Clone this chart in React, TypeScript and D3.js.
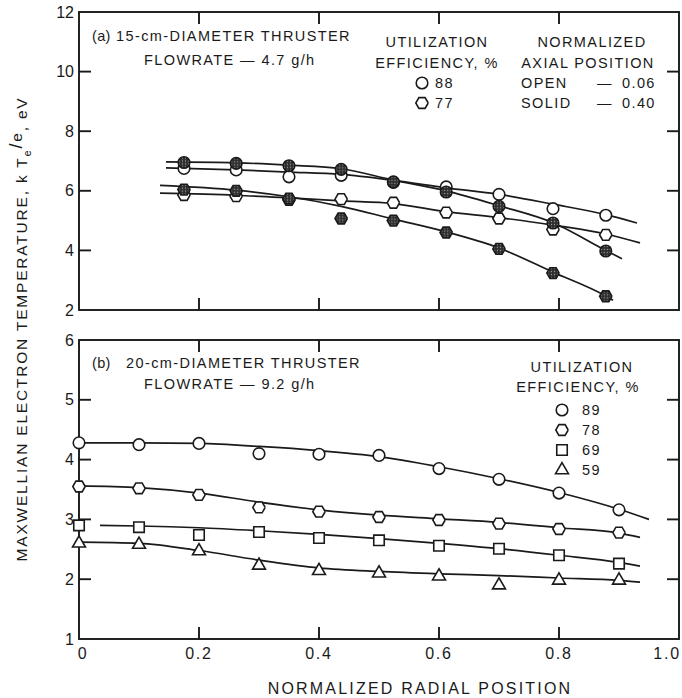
import * as d3 from "d3";
import React from "react";

// panel (a): 15-cm thruster, radial positions of the probe points
const radialA = [0.175, 0.262, 0.35, 0.437, 0.524, 0.612, 0.7, 0.79, 0.878];
const openA88 = [6.75, 6.7, 6.47, 6.52, 6.28, 6.13, 5.88, 5.4, 5.18];
const solidA88 = [6.95, 6.92, 6.84, 6.72, 6.3, 5.96, 5.48, 4.92, 3.98];
const openA77 = [5.86, 5.82, 5.7, 5.72, 5.6, 5.27, 5.07, 4.7, 4.52];
const solidA77 = [6.04, 6.0, 5.74, 5.07, 5.0, 4.6, 4.05, 3.24, 2.46];

// faired curves of panel (a)
const fitA88OpenX = [0.145, 0.262, 0.35, 0.437, 0.524, 0.612, 0.7, 0.79, 0.878, 0.93];
const fitA88OpenV = [6.77, 6.7, 6.63, 6.55, 6.35, 6.1, 5.88, 5.55, 5.2, 4.92];
const fitA88SolidX = [0.145, 0.262, 0.35, 0.437, 0.524, 0.612, 0.7, 0.79, 0.878, 0.905];
const fitA88SolidV = [6.97, 6.94, 6.86, 6.74, 6.36, 6.0, 5.5, 4.93, 4.0, 3.72];
const fitA77OpenX = [0.135, 0.262, 0.35, 0.437, 0.524, 0.612, 0.7, 0.79, 0.878, 0.935];
const fitA77OpenV = [5.92, 5.85, 5.76, 5.66, 5.57, 5.3, 5.1, 4.85, 4.55, 4.25];
const fitA77SolidX = [0.135, 0.262, 0.35, 0.437, 0.524, 0.612, 0.7, 0.79, 0.878, 0.89];
const fitA77SolidV = [6.18, 6.02, 5.8, 5.48, 5.05, 4.62, 4.08, 3.27, 2.47, 2.33];

// panel (b): 20-cm thruster
const radialB = [0, 0.1, 0.2, 0.3, 0.4, 0.5, 0.6, 0.7, 0.8, 0.9];
const eff89 = [4.28, 4.25, 4.27, 4.1, 4.09, 4.07, 3.85, 3.67, 3.44, 3.16];
const eff78 = [3.55, 3.52, 3.41, 3.2, 3.13, 3.04, 2.99, 2.93, 2.84, 2.78];
const eff69 = [2.9, 2.87, 2.74, 2.79, 2.69, 2.65, 2.56, 2.51, 2.4, 2.26];
const eff59 = [2.6, 2.58, 2.47, 2.23, 2.14, 2.1, 2.05, 1.9, 1.98, 1.98];

const fitB89X = [0, 0.1, 0.2, 0.3, 0.4, 0.5, 0.6, 0.7, 0.8, 0.9, 0.95];
const fitB89V = [4.28, 4.28, 4.27, 4.22, 4.15, 4.05, 3.88, 3.68, 3.45, 3.17, 3.0];
const fitB78X = [0, 0.1, 0.2, 0.3, 0.4, 0.5, 0.6, 0.7, 0.8, 0.9, 0.935];
const fitB78V = [3.56, 3.53, 3.44, 3.29, 3.16, 3.07, 3.01, 2.95, 2.86, 2.77, 2.7];
const fitB69X = [0.035, 0.1, 0.2, 0.3, 0.4, 0.5, 0.6, 0.7, 0.8, 0.9, 0.935];
const fitB69V = [2.9, 2.89, 2.86, 2.81, 2.75, 2.68, 2.6, 2.51, 2.4, 2.28, 2.22];
const fitB59X = [0, 0.1, 0.2, 0.3, 0.4, 0.5, 0.6, 0.7, 0.8, 0.9, 0.935];
const fitB59V = [2.62, 2.6, 2.48, 2.32, 2.19, 2.13, 2.09, 2.06, 2.02, 1.98, 1.95];

const xTicks = [0, 0.2, 0.4, 0.6, 0.8, 1.0];
const yTicksA = [2, 4, 6, 8, 10, 12];
const yTicksB = [1, 2, 3, 4, 5, 6];
const legendB = ["89", "78", "69", "59"];
const legendBKinds = ["circle", "hex", "square", "triangle"];

const FONT = "'Liberation Sans', Arial, sans-serif";
const INK = "#1a1a1a";

const x = d3.scaleLinear().domain([0, 1]).range([79, 679]);
const yA = d3.scaleLinear().domain([2, 12]).range([310, 12]);
const yB = d3.scaleLinear().domain([1, 6]).range([639, 340]);

const hexPath = (r: number) =>
  d3.line()(d3.range(7).map(i => [r * Math.cos((i * Math.PI) / 3), r * Math.sin((i * Math.PI) / 3)] as [number, number]))!;

const markerPath = (kind: string) => {
  if (kind === "hex") return hexPath(6.2);
  if (kind === "square") return d3.symbol(d3.symbolSquare, 110)()!;
  if (kind === "triangle") return d3.symbol(d3.symbolTriangle, 72)()!;
  return d3.symbol(d3.symbolCircle, 105)()!;
};

const Curve = ({xs, vs, y}: {xs: number[]; vs: number[]; y: d3.ScaleLinear<number, number>}) => {
  const line = d3.line<number>()
    .x((_, i) => x(xs[i]))
    .y(v => y(v))
    .curve(d3.curveMonotoneX);
  return <path d={line(vs)!} fill="none" stroke={INK} strokeWidth={1.7} />;
};

const Marks = ({xs, vs, y, kind, solid}: {xs: number[]; vs: number[]; y: d3.ScaleLinear<number, number>; kind: string; solid?: boolean}) => (
  <g>
    {vs.map((v, i) => (
      <path key={i} d={markerPath(kind)} transform={`translate(${x(xs[i])},${y(v)})`}
            fill={solid ? "url(#stipple)" : "white"} stroke={INK} strokeWidth={1.6} />
    ))}
  </g>
);

const Frame = ({y, ticks}: {y: d3.ScaleLinear<number, number>; ticks: number[]}) => {
  const [y0, y1] = y.range();
  const inner = ticks.slice(1, -1);
  return (
    <g stroke={INK} strokeWidth={1.9}>
      <rect x={x(0)} y={y1} width={x(1) - x(0)} height={y0 - y1} fill="none" />
      {xTicks.slice(1, -1).map(t => (
        <g key={t}>
          <line x1={x(t)} x2={x(t)} y1={y1} y2={y1 + 12} />
          <line x1={x(t)} x2={x(t)} y1={y0} y2={y0 - 12} />
        </g>
      ))}
      {inner.map(t => (
        <g key={t}>
          <line x1={x(0)} x2={x(0) + 12} y1={y(t)} y2={y(t)} />
          <line x1={x(1)} x2={x(1) - 12} y1={y(t)} y2={y(t)} />
        </g>
      ))}
    </g>
  );
};

const YLabels = ({y, ticks}: {y: d3.ScaleLinear<number, number>; ticks: number[]}) => (
  <g fontSize={16} textAnchor="end" fill={INK}>
    {ticks.map(t => (
      <text key={t} x={74} y={y(t) + 5.5}>{t}</text>
    ))}
  </g>
);

const App = () => {
  const txt = {fontFamily: FONT, fill: INK, fontSize: 14.5, letterSpacing: 1.4} as const;
  return (
    <svg width={682} height={698} style={{position: "absolute", left: 0, top: 0, background: "white"}}
         fontFamily={FONT}>
      <defs>
        <pattern id="stipple" width={3} height={3} patternUnits="userSpaceOnUse">
          <rect width={3} height={3} fill="#2e2e2e" />
          <circle cx={1.5} cy={1.5} r={0.7} fill="#9a9a9a" />
        </pattern>
      </defs>

      {/* panel (a) */}
      <Frame y={yA} ticks={yTicksA} />
      <YLabels y={yA} ticks={yTicksA} />
      <Curve xs={fitA88SolidX} vs={fitA88SolidV} y={yA} />
      <Curve xs={fitA88OpenX} vs={fitA88OpenV} y={yA} />
      <Curve xs={fitA77OpenX} vs={fitA77OpenV} y={yA} />
      <Curve xs={fitA77SolidX} vs={fitA77SolidV} y={yA} />
      <Marks xs={radialA} vs={openA88} y={yA} kind="circle" />
      <Marks xs={radialA} vs={openA77} y={yA} kind="hex" />
      <Marks xs={radialA} vs={solidA88} y={yA} kind="circle" solid />
      <Marks xs={radialA} vs={solidA77} y={yA} kind="hex" solid />

      <g style={txt}>
        <text x={92} y={41} letterSpacing={0.3}>(a)</text>
        <text x={116} y={41}>15-cm-DIAMETER THRUSTER</text>
        <text x={144} y={65}>FLOWRATE — 4.7 g/h</text>
        <text x={437} y={47} textAnchor="middle">UTILIZATION</text>
        <text x={437} y={68} textAnchor="middle">EFFICIENCY, %</text>
        <text x={435} y={88}>88</text>
        <text x={435} y={108}>77</text>
        <text x={592} y={47} textAnchor="middle">NORMALIZED</text>
        <text x={588} y={68} textAnchor="middle">AXIAL POSITION</text>
        <text x={521} y={88}>OPEN</text>
        <text x={597} y={88}>—</text>
        <text x={622} y={88}>0.06</text>
        <text x={521} y={108}>SOLID</text>
        <text x={597} y={108}>—</text>
        <text x={622} y={108}>0.40</text>
      </g>
      <path d={markerPath("circle")} transform="translate(422,83)" fill="white" stroke={INK} strokeWidth={1.6} />
      <path d={markerPath("hex")} transform="translate(422,103)" fill="white" stroke={INK} strokeWidth={1.6} />

      {/* panel (b) */}
      <Frame y={yB} ticks={yTicksB} />
      <YLabels y={yB} ticks={yTicksB} />
      <Curve xs={fitB89X} vs={fitB89V} y={yB} />
      <Curve xs={fitB78X} vs={fitB78V} y={yB} />
      <Curve xs={fitB69X} vs={fitB69V} y={yB} />
      <Curve xs={fitB59X} vs={fitB59V} y={yB} />
      <Marks xs={radialB} vs={eff89} y={yB} kind="circle" />
      <Marks xs={radialB} vs={eff78} y={yB} kind="hex" />
      <Marks xs={radialB} vs={eff69} y={yB} kind="square" />
      <Marks xs={radialB} vs={eff59} y={yB} kind="triangle" />

      <g style={txt}>
        <text x={92} y={368} letterSpacing={0.3}>(b)</text>
        <text x={126} y={368}>20-cm-DIAMETER THRUSTER</text>
        <text x={144} y={389}>FLOWRATE — 9.2 g/h</text>
        <text x={582} y={372} textAnchor="middle">UTILIZATION</text>
        <text x={578} y={392} textAnchor="middle">EFFICIENCY, %</text>
        {legendB.map((s, i) => (
          <text key={s} x={582} y={415 + i * 20}>{s}</text>
        ))}
      </g>
      {legendBKinds.map((k, i) => (
        <path key={k} d={markerPath(k)} transform={`translate(562,${410 + i * 20})`}
              fill="white" stroke={INK} strokeWidth={1.6} />
      ))}

      {/* x tick labels and titles */}
      <g fontSize={16} fill={INK} letterSpacing={1.8}>
        {xTicks.map(t => (
          <text key={t} x={t === 1 ? 681 : x(t) + (t === 0 ? 4 : 0)} y={659}
                textAnchor={t === 1 ? "end" : "middle"}>
            {t === 0 ? "0" : t.toFixed(1)}
          </text>
        ))}
      </g>
      <text x={420} y={694} textAnchor="middle" style={{...txt, fontSize: 16, letterSpacing: 2.2}}>
        NORMALIZED RADIAL POSITION
      </text>
      <text transform="translate(27,329) rotate(-90)" textAnchor="middle"
            style={{...txt, fontSize: 15.5, letterSpacing: 1.8}}>
        MAXWELLIAN ELECTRON TEMPERATURE, k T
        <tspan dy={4} fontSize={11}>e</tspan>
        <tspan dy={-9} fontSize={18}>/</tspan>
        <tspan dy={0}>e</tspan>
        <tspan dy={5}>, eV</tspan>
      </text>
    </svg>
  );
};

export default App;
